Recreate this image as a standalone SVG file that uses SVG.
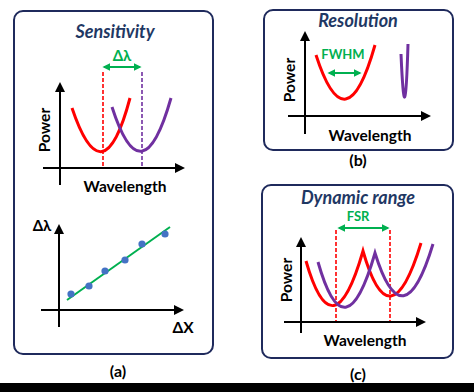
<svg xmlns="http://www.w3.org/2000/svg" width="474" height="392" viewBox="0 0 474 392">
<defs>
<style>
.box{fill:#fff;stroke:#1f2a5c;stroke-width:2}
.ax{stroke:#000;stroke-width:2;fill:none}
.t{font-family:Lato,"Liberation Sans",sans-serif;font-weight:bold;fill:#000;text-anchor:middle}
.title{font-family:Lato,"Liberation Sans",sans-serif;font-weight:bold;font-style:italic;fill:#1f3864;text-anchor:middle;font-size:18px}
.g{font-family:Lato,"Liberation Sans",sans-serif;font-weight:bold;fill:#00b050;text-anchor:middle}
.red{stroke:#ff0000;stroke-width:3;fill:none}
.pur{stroke:#7030a0;stroke-width:3;fill:none}
.rd{stroke:#ff0000;stroke-width:1.6;stroke-dasharray:4 2;fill:none}
.pd{stroke:#7030a0;stroke-width:1.6;stroke-dasharray:4 2;fill:none}
.ga{stroke:#00b050;stroke-width:2;fill:none;marker-start:url(#gh);marker-end:url(#gh)}
.dot{fill:#4472c4}
</style>
<marker id="ah" viewBox="0 0 10 10" refX="8" refY="5" markerWidth="5" markerHeight="5" orient="auto-start-reverse"><path d="M0,0 L10,5 L0,10 z" fill="#000"/></marker>
<marker id="gh" viewBox="0 0 10 10" refX="8" refY="5" markerWidth="4" markerHeight="4" orient="auto-start-reverse"><path d="M0,0 L10,5 L0,10 z" fill="#00b050"/></marker>
</defs>
<rect x="0" y="0" width="474" height="392" fill="#fff"/>
<rect x="0" y="383" width="474" height="9" fill="#000"/>

<g id="panel-a">
<rect class="box" x="14" y="11" width="199" height="343" rx="9"/>
<text class="title" x="115" y="38">Sensitivity</text>
<text class="g" x="122" y="61" font-size="15">Δλ</text>
<line class="ga" x1="104" y1="67" x2="140" y2="67"/>
<line class="rd" x1="103" y1="72" x2="103" y2="168"/>
<line class="pd" x1="142" y1="72" x2="142" y2="168"/>
<line class="ax" x1="60" y1="185" x2="60" y2="84" marker-end="url(#ah)"/>
<line class="ax" x1="43" y1="168" x2="183" y2="168" marker-end="url(#ah)"/>
<path class="red" d="M72,108 Q103,200 130,98"/>
<path class="pur" d="M112,107 Q142,200 171,98"/>
<text class="t" font-size="15.5" transform="translate(50,130) rotate(-90)">Power</text>
<text class="t" x="125" y="192" font-size="15.5">Wavelength</text>
<text class="t" x="42" y="231" font-size="15">Δλ</text>
<line class="ax" x1="59" y1="327" x2="59" y2="226" marker-end="url(#ah)"/>
<line class="ax" x1="41" y1="310" x2="182" y2="310" marker-end="url(#ah)"/>
<line x1="67" y1="300" x2="170" y2="227" stroke="#00b050" stroke-width="2"/>
<circle class="dot" cx="71" cy="294" r="3.6"/>
<circle class="dot" cx="89" cy="286" r="3.6"/>
<circle class="dot" cx="105" cy="271" r="3.6"/>
<circle class="dot" cx="125" cy="260" r="3.6"/>
<circle class="dot" cx="142" cy="244" r="3.6"/>
<circle class="dot" cx="165" cy="234" r="3.6"/>
<text class="t" x="183" y="333" font-size="15.5">ΔX</text>
<text class="t" x="118" y="377" font-size="16">(a)</text>
</g>

<g id="panel-b">
<rect class="box" x="264" y="10" width="189" height="140" rx="9"/>
<text class="title" x="358" y="27">Resolution</text>
<line class="ax" x1="305" y1="134" x2="305" y2="33" marker-end="url(#ah)"/>
<line class="ax" x1="288" y1="116" x2="429" y2="116" marker-end="url(#ah)"/>
<path class="red" d="M316,55 Q346,148 375,45"/>
<path class="pur" d="M401,54 Q405,145 408,44"/>
<text class="g" x="343" y="59" font-size="13">FWHM</text>
<line class="ga" x1="329" y1="73" x2="360" y2="73"/>
<text class="t" font-size="15.5" transform="translate(295,80) rotate(-90)">Power</text>
<text class="t" x="370" y="141" font-size="15.5">Wavelength</text>
<text class="t" x="358" y="166" font-size="16">(b)</text>
</g>

<g id="panel-c">
<rect class="box" x="262" y="185" width="191" height="173" rx="9"/>
<text class="title" x="358" y="204">Dynamic range</text>
<text class="g" x="358" y="221" font-size="13">FSR</text>
<line class="ga" x1="339" y1="228" x2="388" y2="228"/>
<line class="rd" x1="336" y1="230" x2="336" y2="322"/>
<line class="rd" x1="390" y1="230" x2="390" y2="322"/>
<line class="ax" x1="301" y1="333" x2="301" y2="239" marker-end="url(#ah)"/>
<line class="ax" x1="284" y1="322" x2="424" y2="322" marker-end="url(#ah)"/>
<path class="red" d="M306,261 Q333,355 363,251 Q390,345 421,243"/>
<path class="pur" d="M318,262 Q345,357 375,253 Q403,343 433,244"/>
<text class="t" font-size="15.5" transform="translate(292,280) rotate(-90)">Power</text>
<text class="t" x="365" y="346" font-size="15.5">Wavelength</text>
<text class="t" x="358" y="380" font-size="16">(c)</text>
</g>
</svg>
